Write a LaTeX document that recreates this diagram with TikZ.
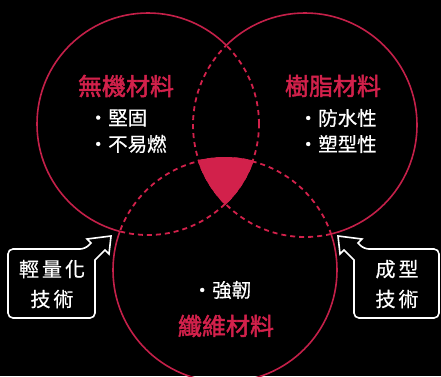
\documentclass[tikz,border=0pt]{standalone}
\usepackage{fontspec}
\newfontfamily\cjk{Noto Sans CJK TC}[FakeBold=0.5]
\newfontfamily\cjkt{Noto Sans CJK TC}[FakeBold=2]
\definecolor{vred}{HTML}{D2214B}
\definecolor{vline}{HTML}{C42049}
\newcommand{\gapx}{\hspace{3pt}}
\newcommand{\dotx}{\makebox[20pt]{·}}
\begin{document}
\begin{tikzpicture}[x=1pt,y=-1pt,
  solidline/.style={draw=vline, line width=1.6pt},
  dashline/.style={draw=vred, line width=1.8pt, dash pattern=on 5pt off 4pt},
  title/.style={text=vred, font=\cjkt\fontsize{24}{28}\selectfont, inner sep=0pt},
  item/.style={text=white, font=\cjk\fontsize{19.5}{26}\selectfont, anchor=west, inner sep=0pt},
  callout/.style={draw=white, line width=1.6pt},
  calltext/.style={text=white, font=\cjk\fontsize{20}{28}\selectfont, align=center, inner sep=0pt}
]
\useasboundingbox (0,0) rectangle (441,376);
\fill[black] (0,0) rectangle (441,376);
\clip (0,0) rectangle (441,376);

% left circle
\begin{scope}[even odd rule]
  \clip (-50,-50) rectangle (500,450) (305,125) circle[radius=112pt];
  \clip (-50,-50) rectangle (500,450) (225,270) circle[radius=112pt];
  \path[solidline] (148,124) circle[radius=111pt];
\end{scope}
\begin{scope}
  \clip (305,125) circle[radius=112pt];
  \path[dashline] (148,124) circle[radius=111pt];
\end{scope}
\begin{scope}
  \clip (225,270) circle[radius=112pt];
  \path[dashline] (148,124) circle[radius=111pt];
\end{scope}

% right circle
\begin{scope}[even odd rule]
  \clip (-50,-50) rectangle (500,450) (148,124) circle[radius=111pt];
  \clip (-50,-50) rectangle (500,450) (225,270) circle[radius=112pt];
  \path[solidline] (305,125) circle[radius=112pt];
\end{scope}
\begin{scope}
  \clip (148,124) circle[radius=111pt];
  \path[dashline] (305,125) circle[radius=112pt];
\end{scope}
\begin{scope}
  \clip (225,270) circle[radius=112pt];
  \path[dashline] (305,125) circle[radius=112pt];
\end{scope}

% bottom circle
\begin{scope}[even odd rule]
  \clip (-50,-50) rectangle (500,450) (148,124) circle[radius=111pt];
  \clip (-50,-50) rectangle (500,450) (305,125) circle[radius=112pt];
  \path[solidline] (225,270) circle[radius=112pt];
\end{scope}
\begin{scope}
  \clip (148,124) circle[radius=111pt];
  \path[dashline] (225,270) circle[radius=112pt];
\end{scope}
\begin{scope}
  \clip (305,125) circle[radius=112pt];
  \path[dashline] (225,270) circle[radius=112pt];
\end{scope}

% triple intersection (drawn last, with a thin rim covering dash ends)
\begin{scope}
  \clip (305,125) circle[radius=113pt];
  \clip (225,270) circle[radius=113pt];
  \fill[vred] (148,124) circle[radius=112pt];
\end{scope}

% texts
\node[title] (t1) at (126,86) {無機材料};
\node[item] (i1) at (88,118) {\dotx 堅固};
\node[item] (i2) at (88,144) {\dotx 不易燃};
\node[title] (t2) at (333,86) {樹脂材料};
\node[item] (i3) at (298,118) {\dotx 防水性};
\node[item] (i4) at (298,144) {\dotx 塑型性};
\node[item] (i5) at (192,290) {\dotx 強韌};
\node[title] (t3) at (226,326) {纖維材料};

% callouts
\draw[callout] (8,285) [rounded corners=5pt] -- (8,249) -- (85,249) [sharp corners] -- (91,243) -- (87,239) -- (111,236) -- (109,254) -- (105,250) -- (95,260) [rounded corners=5pt] -- (95,318) -- (8,318) -- (8,285);
\draw[callout] (439,285) [rounded corners=5pt] -- (439,249) -- (364,249) [sharp corners] -- (358,243) -- (362,239) -- (338,236) -- (340,254) -- (344,250) -- (354,260) [rounded corners=5pt] -- (354,318) -- (439,318) -- (439,285);

\node[calltext] (c1) at (52,284) {輕\gapx 量\gapx 化\\[2pt]技\gapx 術};
\node[calltext] (c2) at (397,284) {成\gapx 型\\[2pt]技\gapx 術};
\end{tikzpicture}
\end{document}
